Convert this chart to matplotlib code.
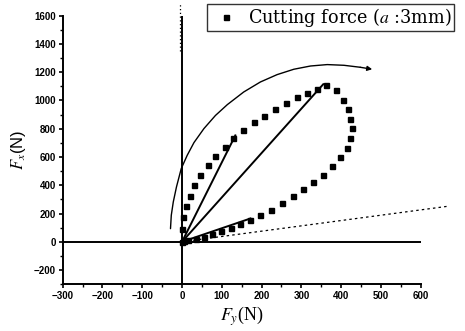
import numpy as np
import matplotlib
matplotlib.use("Agg")
import matplotlib.pyplot as plt
from matplotlib.ticker import MultipleLocator

plt.rcParams["mathtext.fontset"] = "stix"

# measured cutting force loop, Fy vs Fx (N)
fy = [0, 0.5, 2.5, 9, 20, 31, 46, 65, 84, 107, 129, 152, 180, 207, 234, 261, 288, 314, 339, 363,
      386, 404, 418, 423, 426, 422, 415, 398, 377, 354, 330, 304, 279, 251, 224, 197, 170, 146,
      122, 98, 76, 55, 34, 16, 6]
fx = [0, 93, 173, 251, 326, 400, 473, 544, 610, 671, 735, 794, 846, 893, 940, 985, 1023, 1053, 1084, 1108,
      1072, 1006, 938, 872, 805, 737, 667, 600, 536, 476, 421, 372, 322, 272, 228, 191, 156, 129,
      101, 76, 54, 34, 20, 10, 4]

# resultant force directions drawn from the origin
ray_ends_fy = [355, 134, 172]
ray_ends_fx = [1115, 753, 165]

# dotted reference direction (runs past the axis end)
ref_fy = [0, 667]
ref_fx = [0, 251]

# hand-drawn rotation arc with arrow
arc_fy = [-29, -27, -22, -14, -2, 13, 30, 55, 84, 114, 155, 197, 239, 281, 323, 365, 407, 448, 478]
arc_fx = [93, 188, 282, 388, 518, 612, 702, 801, 894, 971, 1060, 1131, 1183, 1221, 1244, 1254, 1249, 1235, 1221]

fig = plt.figure(figsize=(4.65, 3.31), dpi=100)
ax = fig.add_axes([0.1348, 0.1414, 0.77, 0.8112])

ax.set_xlim(-300, 600)
ax.set_ylim(-300, 1600)

for s in ["top", "right"]:
    ax.spines[s].set_visible(False)
for s in ["left", "bottom"]:
    ax.spines[s].set_linewidth(1.4)

ax.xaxis.set_major_locator(MultipleLocator(100))
ax.xaxis.set_minor_locator(MultipleLocator(50))
ax.yaxis.set_major_locator(MultipleLocator(200))
ax.yaxis.set_minor_locator(MultipleLocator(100))
ax.tick_params(which="major", direction="out", length=3, width=1.2,
               labelsize=7, pad=2)
ax.tick_params(which="minor", direction="out", length=2, width=1)
for lab in ax.get_xticklabels() + ax.get_yticklabels():
    lab.set_fontweight("bold")
    lab.set_family("Liberation Sans")

# axes through the origin
ax.plot([-300, 600], [0, 0], color="black", lw=1.4)
ax.plot([0, 0], [-300, 1600], color="black", lw=1.4)
ax.plot([-4, -4], [1350, 1690], color="black", lw=0.9, ls=(0, (1, 2)), clip_on=False)

# force direction rays
for x1, y1 in zip(ray_ends_fy, ray_ends_fx):
    ax.plot([0, x1], [0, y1], color="black", lw=1.4)

ax.plot(ref_fy, ref_fx, color="black", lw=0.9, ls=(0, (2, 2.5)), clip_on=False)

# rotation arc
ax.plot(arc_fy[:-1], arc_fx[:-1], color="black", lw=1.0, solid_capstyle="round")
ax.annotate("", xy=(arc_fy[-1], arc_fx[-1]), xytext=(arc_fy[-2], arc_fx[-2]),
            arrowprops=dict(arrowstyle="-|>", color="black", lw=1.0,
                            mutation_scale=7, shrinkA=0, shrinkB=0))

ax.plot(fy, fx, ls="none", marker="s", ms=3.6, color="black")

ax.set_xlabel(r"$F_y$(N)", fontsize=13, family="Liberation Serif", labelpad=2)
ax.set_ylabel(r"$\mathit{F}_x$(N)", fontsize=12, family="Liberation Sans", labelpad=4)

# legend box
ax.plot([], [], ls="none", marker="s", ms=3.6, color="black",
        label=r"Cutting force ($a$ :3mm)")
legend = ax.legend(loc="upper left", bbox_to_anchor=(207 / 465, 1 - 4 / 331),
                   bbox_transform=fig.transFigure, borderaxespad=0,
                   frameon=True, fancybox=False, edgecolor="black",
                   handlelength=1.9, handletextpad=0.3, borderpad=0.12,
                   prop={"family": "DejaVu Serif", "size": 12.7})
legend.get_frame().set_linewidth(1.0)
legend.set_clip_on(False)

fig.savefig("out.png", dpi=100)
